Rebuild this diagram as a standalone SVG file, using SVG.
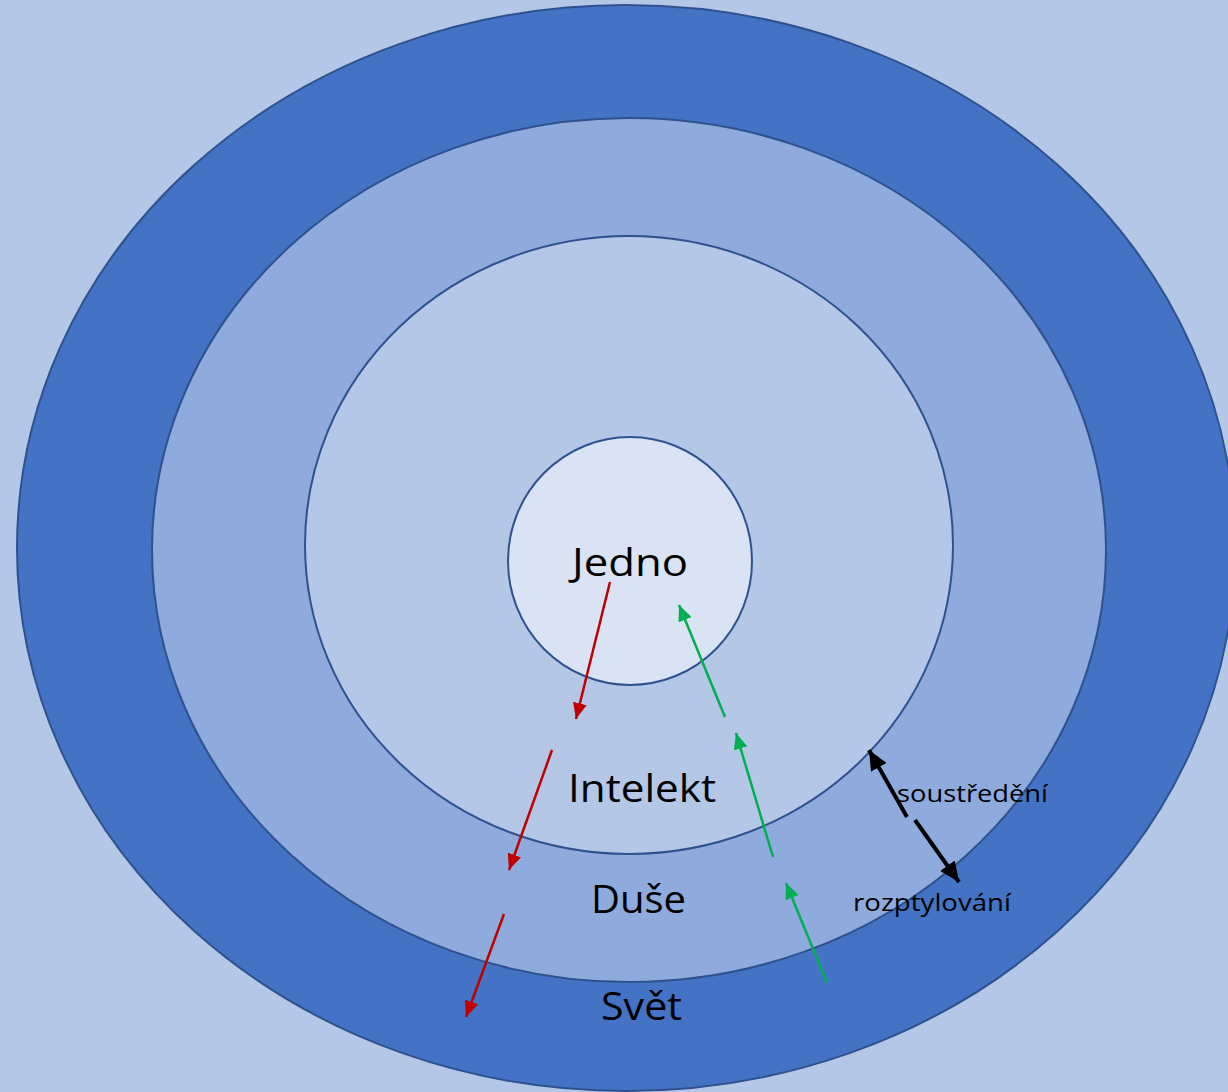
<svg xmlns="http://www.w3.org/2000/svg" width="1228" height="1092" viewBox="0 0 1228 1092">
<style>
.ring{stroke:#2F528F;stroke-width:2}
.big{font-family:"Open Sans","Liberation Sans",sans-serif;font-size:38px;fill:#000}
.small{font-family:"Open Sans","Liberation Sans",sans-serif;font-size:23px;fill:#000}
.red{stroke:#C00000;stroke-width:2.5;fill:none;marker-end:url(#ar)}
.green{stroke:#00B050;stroke-width:2.5;fill:none;marker-end:url(#ag)}
.black{stroke:#000;stroke-width:4;fill:none;marker-end:url(#ab)}
</style>
<defs>
<marker id="ar" markerUnits="userSpaceOnUse" markerWidth="16" markerHeight="14" viewBox="0 0 16 14" refX="16" refY="7" orient="auto"><path d="M0,0 L16,7 L0,14 Z" fill="#C00000"/></marker>
<marker id="ag" markerUnits="userSpaceOnUse" markerWidth="16" markerHeight="14" viewBox="0 0 16 14" refX="16" refY="7" orient="auto"><path d="M0,0 L16,7 L0,14 Z" fill="#00B050"/></marker>
<marker id="ab" markerUnits="userSpaceOnUse" markerWidth="20" markerHeight="18" viewBox="0 0 20 18" refX="20" refY="9" orient="auto"><path d="M0,0 L20,9 L0,18 Z" fill="#000"/></marker>
</defs>
<rect x="0" y="0" width="1228" height="1092" fill="#B4C7E7"/>
<g id="svet">
<ellipse class="ring" cx="626" cy="548" rx="609" ry="543" fill="#4472C4"/>
<text class="big" x="601" y="1020" textLength="81" lengthAdjust="spacingAndGlyphs">Svět</text>
</g>
<g id="duse">
<ellipse class="ring" cx="629" cy="550" rx="477" ry="432" fill="#8FAADC"/>
<text class="big" x="591" y="913" textLength="95" lengthAdjust="spacingAndGlyphs">Duše</text>
</g>
<g id="intelekt">
<ellipse class="ring" cx="629" cy="545" rx="324" ry="309" fill="#B4C7E7"/>
<text class="big" x="568" y="802" textLength="148" lengthAdjust="spacingAndGlyphs">Intelekt</text>
</g>
<g id="jedno">
<ellipse class="ring" cx="630" cy="561" rx="122" ry="124" fill="#DAE3F3"/>
<text class="big" x="572" y="576" textLength="116" lengthAdjust="spacingAndGlyphs">Jedno</text>
</g>
<g id="connectors">
<line class="red" x1="610" y1="582" x2="576" y2="719"/>
<line class="red" x1="552" y1="750" x2="509" y2="870"/>
<line class="red" x1="504" y1="914" x2="466" y2="1017"/>
<line class="green" x1="725" y1="717" x2="679" y2="605"/>
<line class="green" x1="773" y1="857" x2="736" y2="733"/>
<line class="green" x1="827" y1="983" x2="786" y2="883"/>
<line class="black" x1="907" y1="817" x2="869" y2="750"/>
<line class="black" x1="915" y1="820" x2="959" y2="882"/>
</g>
<g id="labels">
<text class="small" x="897" y="802" textLength="151" lengthAdjust="spacingAndGlyphs">soustředění</text>
<text class="small" x="853" y="911" textLength="158" lengthAdjust="spacingAndGlyphs">rozptylování</text>
</g>
</svg>
